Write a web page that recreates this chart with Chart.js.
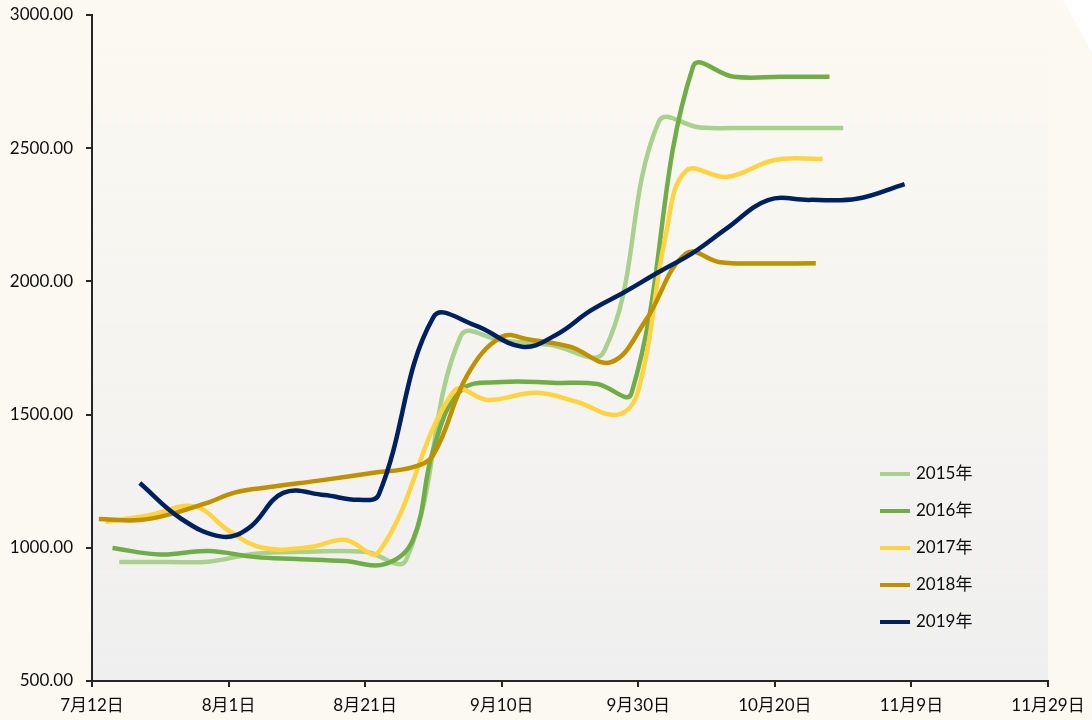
<!DOCTYPE html>
<html>
<head>
<meta charset="utf-8">
<script src="https://cdn.jsdelivr.net/npm/chart.js@4.4.1/dist/chart.umd.min.js"></script>
<style>
  html, body { margin: 0; padding: 0; background: #fcf9f2; overflow: hidden; }
  canvas { display: block; }
</style>
</head>
<body>
<canvas id="priceChart" width="1092" height="720"></canvas>
<script>
// x axis: days counted from 7月12日, one label every 20 days
const xTickLabels = ['7月12日', '8月1日', '8月21日', '9月10日', '9月30日', '10月20日', '11月9日', '11月29日'];
const seriesNames = ['2015年', '2016年', '2017年', '2018年', '2019年'];

const days2015 = [4, 11, 17, 24, 31, 40, 46, 54, 60, 67, 75, 83, 89, 96, 103, 110];
const vals2015 = [947, 947, 948, 978, 985, 985, 955, 1795, 1778, 1762, 1738, 2600, 2578, 2576, 2576, 2576];

const days2016 = [3, 10, 17, 24, 30, 37, 43, 47, 50, 54, 60, 68, 74, 79, 88, 94, 101, 108];
const vals2016 = [999, 975, 988, 965, 958, 950, 940, 1030, 1370, 1590, 1622, 1619, 1615, 1580, 2805, 2768, 2768, 2768];

const days2017 = [2, 8, 15, 20, 25, 32, 37, 42, 53, 58, 65, 71, 77, 80, 84, 87, 93, 100, 107];
const vals2017 = [1098, 1120, 1155, 1065, 1000, 1003, 1030, 985, 1588, 1555, 1582, 1548, 1500, 1590, 2170, 2415, 2392, 2456, 2460];

const days2018 = [1, 7, 12, 17, 21, 26, 34, 41, 47, 50, 55, 60, 64, 70, 76, 81, 87, 92, 98, 106];
const vals2018 = [1108, 1104, 1130, 1170, 1208, 1228, 1255, 1281, 1303, 1350, 1650, 1792, 1782, 1755, 1697, 1850, 2105, 2072, 2067, 2068];

const days2019 = [7, 13, 19, 23, 28, 34, 39, 42, 50, 56, 63, 68, 73, 78, 83, 88, 93, 99, 105, 112, 119];
const vals2019 = [1243, 1110, 1042, 1075, 1206, 1198, 1180, 1200, 1866, 1836, 1755, 1800, 1890, 1960, 2035, 2107, 2200, 2305, 2306, 2310, 2365];

const seriesDays = [days2015, days2016, days2017, days2018, days2019];
const seriesVals = [vals2015, vals2016, vals2017, vals2018, vals2019];
const seriesColors = ['#a9d18e', '#70ad47', '#ffd23f', '#bf9000', '#002060'];

const FONT = "Lato, 'Noto Sans CJK SC', sans-serif";
const AXIS_COLOR = '#262626';
const TEXT_COLOR = '#0d0d0d';

// cream page, gradient plot area and the cut top-right corner
const backgroundPlugin = {
    id: 'background',
    beforeDraw(chart) {
        const { ctx, chartArea: a, width } = chart;
        ctx.save();
        ctx.fillStyle = '#fcf9f2';
        ctx.fillRect(0, 0, width, chart.height);
        const g = ctx.createLinearGradient(0, a.top, 0, a.bottom);
        g.addColorStop(0, '#fcf9f2');
        g.addColorStop(1, '#efefef');
        ctx.fillStyle = g;
        ctx.fillRect(a.left, a.top, a.right - a.left, a.bottom - a.top);
        ctx.fillStyle = '#ffffff';
        ctx.beginPath();
        ctx.moveTo(width - 29, 0);
        ctx.lineTo(width, 0);
        ctx.lineTo(width, 53);
        ctx.closePath();
        ctx.fill();
        ctx.restore();
    }
};

// legend drawn inside the plot, lower right
const insideLegend = {
    id: 'insideLegend',
    afterDatasetsDraw(chart) {
        const { ctx, chartArea: a } = chart;
        const x0 = a.right - 168;
        const y0 = a.bottom - 207;
        ctx.save();
        ctx.font = '17px ' + FONT;
        ctx.textBaseline = 'middle';
        chart.data.datasets.forEach((ds, i) => {
            const y = y0 + i * 37;
            ctx.strokeStyle = ds.borderColor;
            ctx.lineWidth = 4;
            ctx.beginPath();
            ctx.moveTo(x0, y);
            ctx.lineTo(x0 + 30, y);
            ctx.stroke();
            ctx.fillStyle = TEXT_COLOR;
            ctx.fillText(ds.label, x0 + 36, y);
        });
        ctx.restore();
    }
};

const datasets = seriesNames.map((name, i) => ({
    label: name,
    data: seriesDays[i].map((d, j) => ({ x: d, y: seriesVals[i][j] })),
    borderColor: seriesColors[i],
    backgroundColor: seriesColors[i],
    borderWidth: 4.5,
    pointRadius: 0,
    tension: 0.4,
    fill: false,
    order: seriesNames.length - i
}));

new Chart(document.getElementById('priceChart'), {
    type: 'line',
    data: { datasets },
    options: {
        responsive: false,
        animation: false,
        devicePixelRatio: 1,
        layout: { padding: { top: 15, right: 44, left: 0, bottom: 0 } },
        plugins: {
            legend: { display: false },
            tooltip: { enabled: false }
        },
        scales: {
            x: {
                type: 'linear',
                min: 0,
                max: 140,
                afterFit: (s) => { s.height = 39; },
                border: { display: true, color: AXIS_COLOR, width: 2 },
                grid: { drawOnChartArea: false, drawTicks: true, tickLength: 6, color: AXIS_COLOR, lineWidth: 2 },
                ticks: {
                    stepSize: 20,
                    padding: 6,
                    color: TEXT_COLOR,
                    font: { family: FONT, size: 17, lineHeight: 1.5 },
                    maxRotation: 0,
                    callback: (v) => xTickLabels[v / 20]
                }
            },
            y: {
                min: 500,
                max: 3000,
                afterFit: (s) => { s.width = 92; },
                border: { display: true, color: AXIS_COLOR, width: 2 },
                grid: { drawOnChartArea: false, drawTicks: true, tickLength: 6, color: AXIS_COLOR, lineWidth: 2 },
                ticks: {
                    stepSize: 500,
                    padding: 13,
                    color: TEXT_COLOR,
                    // small lineHeight keeps the top label from pushing the plot down
                    font: { family: FONT, size: 17, lineHeight: 0.2 },
                    callback: (v) => v.toFixed(2)
                }
            }
        }
    },
    plugins: [backgroundPlugin, insideLegend]
});
</script>
</body>
</html>
